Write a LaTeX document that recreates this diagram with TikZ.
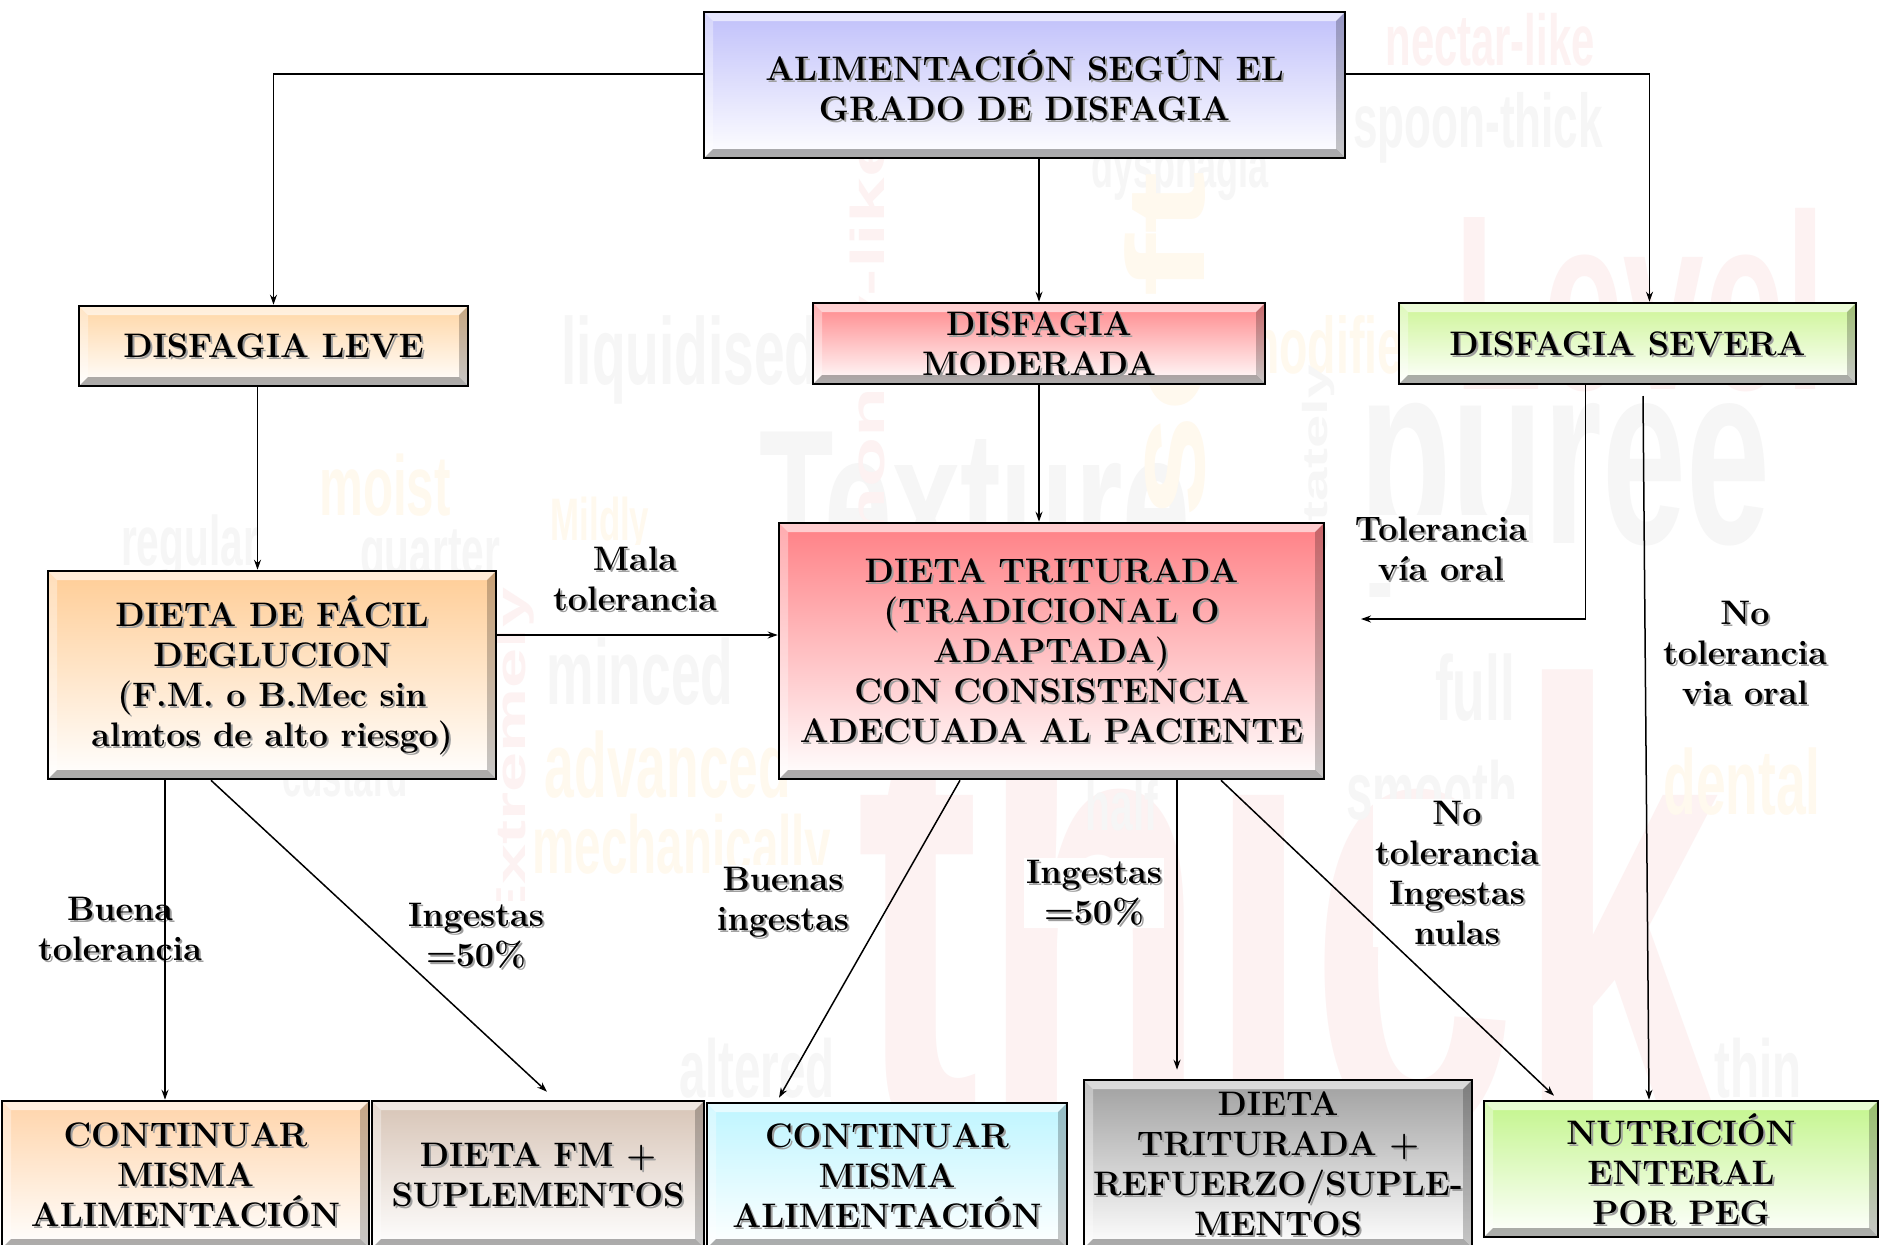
\documentclass[tikz,border=0pt]{standalone}
\usepackage{fontspec}
\newfontfamily\bgfont{Liberation Sans}
\usetikzlibrary{arrows.meta,calc}

\definecolor{cTop}{RGB}{192,192,250}
\definecolor{cLeve}{RGB}{255,214,165}
\definecolor{cMod}{RGB}{255,135,138}
\definecolor{cSev}{RGB}{205,245,150}
\definecolor{cFac}{RGB}{255,205,150}
\definecolor{cTri}{RGB}{255,128,133}
\definecolor{cBa}{RGB}{255,212,170}
\definecolor{cBb}{RGB}{215,196,182}
\definecolor{cBc}{RGB}{190,245,255}
\definecolor{cBd}{RGB}{160,160,160}
\definecolor{cBe}{RGB}{195,245,140}
\definecolor{wRed}{RGB}{253,242,242}
\definecolor{wOra}{RGB}{255,249,238}
\definecolor{wGry}{RGB}{246,246,246}

\newcommand\boxfont{\fontsize{34}{40}\selectfont\bfseries}
\newcommand\bevel{%
  \path (path picture bounding box.south west) coordinate (pSW)
        (path picture bounding box.north east) coordinate (pNE)
        (path picture bounding box.north west) coordinate (pNW)
        (path picture bounding box.south east) coordinate (pSE);
  \fill[white, opacity=.6] (pNW) -- (pNE) -- ($(pNE)+(-9pt,-9pt)$) -- ($(pNW)+(9pt,-9pt)$) -- cycle;
  \fill[white, opacity=.35] (pNW) -- ($(pNW)+(9pt,-9pt)$) -- ($(pSW)+(9pt,9pt)$) -- (pSW) -- cycle;
  \fill[black, opacity=.32] (pSW) -- ($(pSW)+(9pt,9pt)$) -- ($(pSE)+(-9pt,9pt)$) -- (pSE) -- cycle;
  \fill[black, opacity=.22] (pNE) -- (pSE) -- ($(pSE)+(-9pt,9pt)$) -- ($(pNE)+(-9pt,-9pt)$) -- cycle;
}
\tikzset{
  bx/.style={draw=black, line width=2.6pt, inner sep=0pt, align=center, font=\boxfont},
  shtext/.style={align=center, font=\boxfont, text=black!38, inner sep=0pt},
  lbl/.style={align=center, font=\boxfont, inner sep=2pt},
  arr/.style={line width=1.5pt, -{Stealth[length=10pt,width=7pt]}},
  bgw/.style={inner sep=0pt, xscale=.58},
}
% name, position, width, height, colour, text
\newcommand\bxnode[6]{%
  \node[bx, minimum width=#3pt, minimum height=#4pt, top color=#5, bottom color=white,
        path picture={\bevel
          \node[shtext] at ($(path picture bounding box.center)+(2pt,-2pt)$) {#6};}]
    (#1) at (#2) {#6};}
% name, position, text
\newcommand\lblnode[3]{%
  \node[lbl, fill=white,
        path picture={\node[shtext] at ($(path picture bounding box.center)+(2pt,-2pt)$) {#3};}]
    (#1) at (#2) {#3};}
\newcommand\bgword[5]{% position, size, colour, rotation, text
  \node[bgw, text=#3, rotate=#4, font=\bgfont\bfseries\fontsize{#2}{#2}\selectfont] at (#1) {#5};}

\begin{document}
\begin{tikzpicture}[x=1pt,y=-1pt]
\useasboundingbox (0,0) rectangle (1880,1245);
\clip (0,0) rectangle (1880,1245);
\fill[white] (0,0) rectangle (1880,1245);

% faint background word cloud
\bgword{1490,40}{72}{wRed}{0}{nectar-like}
\bgword{1478,128}{76}{wGry}{0}{spoon-thick}
\bgword{1180,172}{62}{wGry}{0}{dysphagia}
\bgword{1640,300}{250}{wRed}{0}{Level}
\bgword{1565,500}{260}{wGry}{0}{puree}
\bgword{975,505}{210}{wGry}{0}{Texture}
\bgword{1290,905}{640}{wRed}{0}{thick}
\bgword{690,360}{95}{wGry}{0}{liquidised}
\bgword{872,335}{82}{wRed}{90}{honey-like}
\bgword{1165,345}{190}{wOra}{90}{soft}
\bgword{1335,345}{80}{wOra}{0}{modified}
\bgword{1318,460}{60}{wGry}{90}{stately}
\bgword{385,485}{85}{wOra}{0}{moist}
\bgword{190,548}{70}{wGry}{0}{regular}
\bgword{430,560}{70}{wGry}{0}{quarter}
\bgword{600,525}{60}{wOra}{0}{Mildly}
\bgword{640,672}{92}{wGry}{0}{minced}
\bgword{668,765}{92}{wOra}{0}{advanced}
\bgword{682,852}{82}{wOra}{0}{mechanically}
\bgword{515,760}{72}{wRed}{90}{Extremely}
\bgword{345,775}{60}{wGry}{0}{custard}
\bgword{1475,688}{92}{wGry}{0}{full}
\bgword{1432,790}{82}{wGry}{0}{smooth}
\bgword{1742,782}{92}{wOra}{0}{dental}
\bgword{1122,805}{70}{wGry}{0}{half}
\bgword{1758,1068}{82}{wGry}{0}{thin}
\bgword{757,1068}{82}{wGry}{0}{altered}

% boxes
\bxnode{top}{1024.5,85}{641}{146}{cTop}{ALIMENTACIÓN SEGÚN EL\\GRADO DE DISFAGIA}
\bxnode{leve}{273.5,346}{389}{80}{cLeve}{DISFAGIA LEVE}
\bxnode{mod}{1039,343.5}{452}{81}{cMod}{DISFAGIA\\MODERADA}
\bxnode{sev}{1627.5,343.5}{457}{81}{cSev}{DISFAGIA SEVERA}
\bxnode{facil}{272,675}{448}{208}{cFac}{DIETA DE FÁCIL\\DEGLUCION\\(F.M. o B.Mec sin\\almtos de alto riesgo)}
\bxnode{trit}{1051.5,651}{545}{256}{cTri}{DIETA TRITURADA\\(TRADICIONAL O\\ADAPTADA)\\CON CONSISTENCIA\\ADECUADA AL PACIENTE}
\bxnode{ba}{185.5,1174.5}{367}{147}{cBa}{CONTINUAR\\MISMA\\ALIMENTACIÓN}
\bxnode{bb}{538,1174.5}{332}{147}{cBb}{DIETA FM +\\SUPLEMENTOS}
\bxnode{bc}{887,1175.5}{360}{145}{cBc}{CONTINUAR\\MISMA\\ALIMENTACIÓN}
\bxnode{bd}{1278,1164}{388}{168}{cBd}{DIETA\\TRITURADA +\\REFUERZO/SUPLE-\\MENTOS}
\bxnode{be}{1681,1169}{394}{136}{cBe}{NUTRICIÓN\\ENTERAL\\POR PEG}

% labels
\lblnode{lmala}{635,579}{Mala\\tolerancia}
\lblnode{ltol}{1441,549}{Tolerancia\\vía oral}
\lblnode{lnotol}{1745,653}{No\\tolerancia\\via oral}
\lblnode{lbuena}{120,929}{Buena\\tolerancia}
\lblnode{ling}{476,936}{Ingestas\\=50\%}
\lblnode{lbuenas}{783,902}{Buenas\\ingestas}
\lblnode{lingb}{1094,893}{Ingestas\\=50\%}
\lblnode{lnula}{1457,873}{No\\tolerancia\\Ingestas\\nulas}

% connectors
\coordinate (tolend) at (1361,619);
\coordinate (sevdrop) at (1643,396);
\draw[arr] ([yshift=11pt]top.west) -| (leve.north);
\draw[arr] ([yshift=11pt]top.east) -| ([xshift=22pt]sev.north);
\draw[arr] (top.south -| mod.north) -- (mod.north);
\draw[arr] ([xshift=-16pt]leve.south) -- ([xshift=-16pt]leve.south |- facil.north);
\draw[arr] (mod.south) -- (mod.south |- trit.north);
\draw[arr] ([yshift=40pt]facil.east) -- ([yshift=40pt]facil.east -| trit.west);
\draw[arr] ([xshift=-42pt]sev.south) |- (tolend);
\draw[arr] (sevdrop) -- ([xshift=-32pt]be.north);
\draw[arr] ([xshift=-107pt]facil.south) -- ([xshift=-107pt]facil.south |- ba.north);
\draw[arr] ([xshift=-61pt]facil.south) -- ([xshift=9pt,yshift=8pt]bb.north);
\draw[arr] ([xshift=-91.5pt]trit.south) -- ([xshift=-108pt,yshift=4pt]bc.north);
\draw[arr] ([xshift=125.5pt]trit.south) -- ([xshift=-101pt,yshift=9pt]bd.north);
\draw[arr] ([xshift=169.5pt]trit.south) -- ([xshift=-127pt,yshift=4pt]be.north);
\end{tikzpicture}
\end{document}
